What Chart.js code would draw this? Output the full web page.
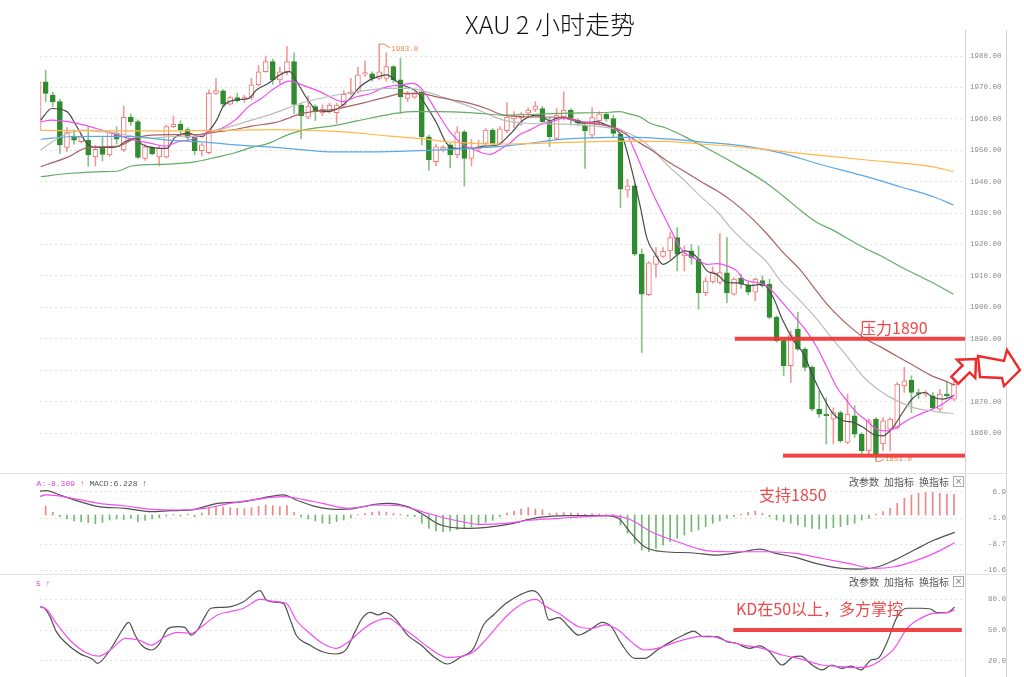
<!DOCTYPE html>
<html lang="zh-CN">
<head>
<meta charset="utf-8">
<title>XAU 2 小时走势</title>
<script src="https://cdn.jsdelivr.net/npm/chart.js@4.4.1/dist/chart.umd.min.js"></script>
<style>
html,body{margin:0;padding:0;background:#fff;}
body{position:relative;width:1024px;height:677px;overflow:hidden;font-family:"Noto Sans CJK SC","Noto Sans",sans-serif;}
canvas{position:absolute;}
.vl{position:absolute;width:1px;background:#d4d4d4;top:30px;height:647px;}
.hl{position:absolute;height:1px;background:#e3e3e3;left:0;width:1006px;}
#title{position:absolute;left:0;width:1100px;top:11px;text-align:center;font-size:25px;font-weight:300;line-height:1;color:#111;white-space:nowrap;}
.red{position:absolute;color:#ef4848;font-size:16px;line-height:1;white-space:nowrap;}
.tool{position:absolute;font-size:10px;line-height:1;color:#555;white-space:nowrap;}
.mono{position:absolute;font-family:"Liberation Mono","DejaVu Sans Mono",monospace;font-size:8px;line-height:1;white-space:nowrap;}
.xbox{position:absolute;width:9px;height:9px;border:1px solid #aaa;font-size:9px;line-height:9px;text-align:center;color:#777;font-family:"DejaVu Sans",sans-serif;}
</style>
</head>
<body>
<div class="vl" style="left:965px"></div>
<div class="vl" style="left:1006px"></div>
<div class="hl" style="top:473px"></div>
<div class="hl" style="top:574px"></div>

<canvas id="main" width="984" height="442" style="left:40px;top:30px;width:984px;height:442px"></canvas>
<canvas id="macd" width="984" height="97" style="left:40px;top:475px;width:984px;height:97px"></canvas>
<canvas id="kd" width="984" height="100" style="left:40px;top:577px;width:984px;height:100px"></canvas>

<div id="title">XAU 2 小时走势</div>

<div class="red" style="left:860px;top:319px">压力1890</div>
<div class="red" style="left:759px;top:486px">支持1850</div>
<div class="red" style="left:736px;top:600px">KD在50以上，多方掌控</div>

<div style="position:absolute;left:36px;top:480px;width:200px;height:10px;overflow:hidden;">
  <span class="mono" style="left:-9px;top:0;color:#e040e0">DEA:-8.309 ↑ <span style="color:#555">MACD:6.228 ↑</span></span>
</div>
<div style="position:absolute;left:36px;top:580px;width:60px;height:10px;overflow:hidden;">
  <span class="mono" style="left:0;top:0;color:#e040e0">5 ↑</span>
</div>

<div class="tool" style="left:849px;top:477px">改参数</div>
<div class="tool" style="left:884px;top:477px">加指标</div>
<div class="tool" style="left:919px;top:477px">换指标</div>
<div class="xbox" style="left:953px;top:476px">×</div>
<div class="tool" style="left:849px;top:577px">改参数</div>
<div class="tool" style="left:884px;top:577px">加指标</div>
<div class="tool" style="left:919px;top:577px">换指标</div>
<div class="xbox" style="left:953px;top:576px">×</div>

<script>
// ---------------- DATA ----------------
// 2-hour candles, index 0..129
const open = [
1956.4,1971.8,1967.6,1965.5,1950.9,1954.5,1952.7,1953.2,1947.9,1950.6,
1948.5,1955.2,1950.1,1960.5,1959.1,1947.4,1950.9,1947.9,1947.9,1957.5,
1958.3,1956.6,1954.3,1949.9,1949.2,1968.1,1968.9,1964.7,1966.8,1966.2,
1966.8,1970.8,1975.0,1978.2,1972.4,1975.0,1978.2,1964.4,1960.5,1963.9,
1961.9,1962.3,1962.0,1964.4,1968.1,1968.6,1974.2,1974.3,1972.9,1972.9,
1976.6,1972.4,1966.5,1966.9,1968.6,1954.3,1946.4,1950.3,1951.7,1948.5,
1955.9,1947.4,1950.4,1952.2,1956.4,1952.2,1956.2,1960.0,1960.4,1961.8,
1963.0,1963.3,1959.1,1953.8,1960.7,1962.8,1959.6,1958.0,1954.8,1959.4,
1961.5,1960.1,1955.1,1937.3,1938.7,1916.9,1904.0,1913.7,1916.2,1918.0,
1922.2,1916.4,1918.0,1915.3,1904.7,1908.1,1907.9,1911.0,1904.2,1909.3,
1907.2,1904.8,1908.5,1907.4,1896.8,1889.4,1881.4,1893.1,1886.7,1880.9,
1867.6,1866.0,1864.4,1866.5,1857.0,1865.5,1859.6,1854.3,1864.4,1856.5,
1861.2,1861.8,1875.0,1876.8,1872.9,1872.4,1871.8,1867.6,1872.4,1870.8];
const high = [
1972.2,1975.5,1968.5,1966.2,1957.2,1956.5,1955.0,1957.5,1951.6,1954.1,
1956.2,1957.5,1964.1,1961.6,1959.7,1951.8,1951.2,1951.3,1958.0,1960.9,
1959.4,1957.2,1954.8,1952.2,1969.2,1972.8,1969.3,1967.2,1968.2,1967.5,
1972.9,1977.0,1980.0,1979.0,1976.5,1983.0,1981.0,1965.0,1967.3,1964.5,
1964.5,1965.0,1965.0,1969.0,1972.9,1976.4,1978.5,1975.0,1983.8,1981.0,
1977.0,1979.3,1968.8,1968.5,1968.8,1954.8,1952.0,1951.5,1952.2,1957.5,
1956.4,1953.5,1953.2,1956.9,1956.9,1957.5,1965.2,1962.3,1962.0,1963.5,
1965.5,1964.0,1960.5,1963.3,1968.6,1963.3,1960.1,1959.0,1963.6,1962.3,
1962.0,1961.2,1955.6,1940.8,1939.2,1918.6,1914.6,1919.0,1919.0,1923.8,
1925.4,1919.6,1920.0,1919.6,1909.5,1912.9,1923.5,1922.2,1909.5,1910.5,
1908.0,1909.3,1910.0,1909.0,1897.3,1889.9,1892.5,1898.4,1887.2,1881.4,
1873.4,1871.3,1868.0,1867.0,1872.4,1868.7,1860.1,1864.4,1864.9,1864.9,
1864.9,1876.1,1880.9,1878.2,1874.0,1873.5,1872.9,1873.9,1876.6,1877.0];
const low = [
1955.8,1965.5,1964.0,1949.0,1949.5,1951.9,1952.3,1944.9,1945.0,1946.6,
1948.0,1952.0,1949.5,1957.9,1947.4,1946.8,1948.5,1945.0,1947.5,1957.2,
1954.5,1953.2,1948.6,1948.2,1948.8,1967.8,1964.0,1964.4,1965.3,1965.2,
1966.0,1970.5,1974.8,1971.0,1971.2,1974.0,1961.7,1953.7,1960.0,1959.5,
1961.0,1961.8,1958.6,1963.8,1967.6,1968.2,1973.5,1972.0,1972.5,1972.0,
1971.5,1961.8,1965.5,1966.5,1951.7,1943.6,1945.0,1949.5,1944.4,1947.5,
1938.6,1945.0,1949.5,1951.7,1951.7,1951.7,1955.6,1957.2,1957.9,1960.5,
1962.3,1958.6,1951.1,1953.4,1959.6,1958.0,1957.8,1944.2,1953.8,1958.0,
1959.2,1954.3,1931.8,1935.0,1916.4,1885.6,1903.7,1909.5,1915.9,1915.3,
1911.6,1911.6,1913.7,1899.4,1903.7,1907.6,1907.4,1901.5,1903.8,1906.0,
1904.0,1902.1,1906.4,1896.3,1888.9,1878.2,1876.1,1886.2,1879.8,1867.1,
1865.0,1856.5,1856.5,1857.0,1856.5,1858.6,1853.3,1853.3,1851.0,1854.3,
1854.3,1861.2,1872.9,1866.5,1871.0,1871.5,1867.6,1866.9,1871.3,1870.2];
const close = [
1971.8,1968.1,1965.5,1951.7,1955.6,1953.2,1954.3,1948.5,1950.3,1948.7,
1955.6,1953.5,1960.5,1959.1,1947.7,1951.1,1948.8,1950.6,1957.5,1958.3,
1956.4,1954.1,1949.9,1951.7,1968.1,1969.0,1964.7,1966.8,1965.8,1966.8,
1970.8,1975.0,1978.2,1972.4,1975.0,1978.2,1964.6,1960.9,1963.9,1962.3,
1963.0,1964.4,1964.4,1967.8,1968.6,1974.0,1974.7,1972.9,1975.0,1976.6,
1972.4,1967.0,1967.9,1968.0,1954.3,1946.9,1951.1,1950.9,1948.5,1955.9,
1947.4,1950.6,1951.2,1956.4,1952.2,1956.8,1960.6,1961.2,1961.6,1962.8,
1964.1,1959.1,1954.3,1961.2,1962.8,1960.4,1958.6,1956.2,1960.4,1961.6,
1960.0,1955.4,1937.6,1938.7,1916.9,1904.2,1914.2,1916.4,1917.8,1922.2,
1916.9,1917.1,1915.8,1904.7,1908.4,1911.3,1911.1,1904.7,1909.0,1907.4,
1904.8,1909.0,1906.9,1896.8,1889.4,1881.4,1891.0,1886.7,1880.9,1867.6,
1866.0,1865.5,1866.5,1857.5,1866.0,1859.6,1854.3,1863.9,1853.3,1863.9,
1864.4,1875.6,1876.6,1872.9,1872.4,1872.9,1868.1,1872.4,1871.8,1875.6];

// moving-average lines, [candle position, price]
const maBlack = [[0.3,1959.6],[1.85,1963.3],[4.0,1962.3],[5.4,1957.5],[6.8,1952.2],[8.2,1950.9],[10.1,1950.9],[11.2,1951.2],[12.2,1952.7],[13.6,1953.8],[14.5,1952],[15.9,1950.9],[18.1,1950.6],[19.2,1954.1],[21.1,1955.4],[23.0,1954.3],[23.9,1955.9],[25.1,1959.6],[26.0,1963.9],[27.7,1966],[29.6,1966.5],[30.7,1969.2],[32.4,1971.3],[34.0,1974],[35.4,1975],[36.4,1971.8],[37.8,1966.5],[39.2,1962.8],[40.8,1962.3],[42.2,1963.3],[43.9,1966.5],[45.3,1970.2],[46.7,1972.4],[48.1,1973.6],[49.1,1974],[50.5,1971.8],[51.9,1970.2],[53.3,1968.6],[54.7,1963.9],[56.1,1958.6],[57.5,1952.2],[58.9,1950.6],[61.3,1950.6],[62.7,1951.3],[64.6,1951.6],[66.4,1955],[68.3,1959.6],[70.2,1961.2],[71.1,1960.5],[72.0,1959.4],[73.5,1960.5],[74.9,1959.8],[76.8,1958.6],[78.6,1959.1],[80.1,1958],[81.5,1956.4],[82.4,1953.5],[82.9,1949.8],[83.8,1941.8],[84.8,1932],[85.7,1922.2],[86.9,1916.9],[88.0,1913.7],[89.0,1914.8],[90.1,1916.9],[91.1,1918],[92.3,1916.9],[93.2,1914.8],[94.2,1911.6],[95.6,1910.5],[97.0,1907.9],[98.4,1907.8],[100.3,1906.9],[102.1,1907.4],[103.5,1903.2],[104.9,1895.7],[106.4,1889.4],[107.8,1885.1],[109.2,1877.7],[110.6,1871.3],[112.0,1866],[113.4,1863.9],[114.8,1863.4],[116.2,1861.8],[117.6,1859.6],[119.0,1859.1],[120.4,1861.8],[121.9,1867],[123.3,1871.3],[124.9,1872.9],[126.1,1871.3],[127.5,1870.8],[128.9,1871.8]];
const maMagenta = [[0.3,1959.1],[1.85,1959.6],[4.2,1959.1],[6.5,1958],[8.9,1956.4],[11.2,1954.8],[13.6,1953.2],[15.9,1952.2],[17.8,1951.3],[19.7,1952.7],[21.6,1953.5],[23.4,1955.4],[25.8,1957],[27.7,1959.6],[29.6,1963.9],[31.4,1966.5],[33.3,1969.8],[35.4,1972],[37.5,1970.5],[39.7,1968.6],[42.0,1966],[42.9,1965.5],[44.9,1967.1],[46.7,1968],[48.5,1969.8],[50.9,1970.8],[52.8,1971.3],[54.2,1969],[56.1,1962.3],[58.0,1955.8],[59.8,1951.8],[61.8,1949.8],[63.6,1948.7],[65.4,1950.8],[66.4,1952.2],[67.8,1955],[69.2,1956.4],[70.7,1958.2],[73.0,1959.6],[73.9,1960.2],[76.3,1959.2],[78.6,1958.6],[81.0,1957.3],[81.9,1956.6],[82.9,1955.1],[83.8,1950.9],[85.2,1943.4],[86.6,1936],[88.0,1929.6],[89.4,1923.3],[90.4,1919],[91.3,1916.9],[92.7,1915.3],[94.2,1913.7],[95.6,1913.9],[97.0,1913.2],[98.4,1911.6],[99.3,1909],[101.2,1907.9],[102.6,1906.9],[104.0,1903.7],[105.4,1900],[106.8,1896.3],[108.2,1892.5],[109.7,1887.2],[111.1,1880.9],[112.5,1874.5],[113.9,1870.3],[115.3,1866.5],[116.7,1863.9],[118.1,1861.2],[119.5,1860.7],[120.9,1861.8],[122.3,1863.9],[123.7,1865.5],[125.6,1867.3],[127.0,1868.7],[128.4,1870.8],[129.1,1872.2]];
const maGray = [[0.3,1950.1],[2.3,1953.2],[4.2,1955.4],[6.5,1956.4],[8.9,1955.9],[11.2,1955.4],[13.6,1954.3],[15.9,1953.8],[18.3,1954.3],[20.6,1954.3],[23.0,1954.8],[25.3,1956.4],[27.7,1958],[30.0,1959.6],[32.4,1961.2],[33.3,1961.9],[37.3,1965.2],[42.0,1967.6],[46.7,1969.2],[49.5,1969.7],[52.3,1969.7],[54.7,1968.6],[57.5,1966.5],[60.8,1963.9],[63.6,1961.2],[65.5,1959.6],[68.8,1958.6],[74.4,1958.3],[79.1,1957.5],[81.5,1956.6],[82.9,1955.6],[84.8,1953.5],[86.9,1949.5],[88.5,1945.5],[90.9,1940.6],[93.2,1935.5],[95.6,1930.5],[97.9,1924.4],[100.3,1919.2],[102.6,1914.5],[104.5,1908.6],[106.8,1903.3],[109.2,1897.5],[111.5,1891],[113.9,1884.5],[116.2,1878],[118.6,1873.4],[120.9,1870.3],[123.3,1868.1],[125.6,1867.1],[127.5,1866.5],[128.9,1866.2]];
const maBrown = [[0.3,1944.8],[2.3,1946.3],[4.2,1947.9],[6.5,1950.6],[8.9,1951.1],[11.2,1951.3],[13.6,1953.8],[15.9,1954.8],[18.3,1955],[20.6,1955],[23.0,1955.1],[25.3,1955.9],[27.7,1956.6],[30.0,1957.7],[33.3,1958.8],[37.3,1961.8],[42.0,1963.2],[46.7,1965.6],[49.1,1967],[51.4,1968.1],[53.7,1968.1],[56.1,1967],[58.4,1966],[60.8,1964.9],[63.1,1963.3],[65.5,1961.2],[70.2,1960.6],[74.4,1960.4],[76.8,1958.8],[79.1,1958.2],[81.0,1957.2],[82.4,1955.6],[83.8,1953.6],[86.2,1950.3],[88.5,1946.7],[90.9,1943.4],[93.2,1940.2],[95.6,1937.1],[97.9,1933.5],[100.3,1928.8],[102.6,1923.5],[104.9,1917.5],[107.3,1912],[109.7,1905],[111.5,1900],[114.0,1894.5],[116.5,1890],[118.6,1887.5],[120.9,1884.5],[123.3,1881.5],[125.6,1878.5],[128.0,1876.3],[129.1,1875.2]];
const maGreen = [[0.3,1941.6],[4.2,1942.6],[8.9,1943.2],[11.2,1943.4],[13.1,1945],[18.3,1945.6],[22.0,1946.3],[25.3,1947.9],[27.7,1949.2],[30.0,1950.9],[32.4,1952.2],[35.0,1954.8],[37.3,1956.4],[42.0,1958],[46.7,1960.2],[50.5,1961.8],[52.8,1962.3],[56.1,1962.3],[60.8,1962],[65.5,1961.2],[74.4,1961.8],[80.5,1962.1],[81.9,1962.3],[83.3,1961.5],[84.8,1960.6],[86.2,1958.6],[88.5,1957],[90.9,1954.5],[93.2,1951.8],[97.9,1946],[102.6,1939.5],[104.9,1935.5],[107.3,1931],[109.7,1927],[112.0,1924.5],[114.3,1921.5],[116.7,1918.5],[118.6,1916.5],[121.4,1913],[125.6,1908.3],[128.9,1904.2]];
const maOrange = [[0.3,1956.3],[8.9,1956.2],[18.3,1956.2],[27.7,1956.4],[33.3,1956.6],[42.0,1956],[49.1,1954.6],[54.2,1953.6],[58.4,1952.6],[65.0,1952],[74.4,1952.5],[81.5,1952.9],[88.5,1952.8],[93.2,1952],[98.9,1951.1],[107.3,1949],[116.7,1946.9],[126.1,1944.7],[128.9,1943.2]];
const maBlue = [[0.3,1953.5],[4.2,1954.3],[8.9,1954.4],[13.6,1954.3],[18.3,1953.2],[23.0,1952.7],[27.7,1951.7],[33.3,1950.9],[42.0,1949.5],[46.7,1949.5],[53.7,1949.9],[60.8,1950.6],[66.4,1951.5],[74.4,1953.6],[80.5,1954.1],[84.3,1954.1],[88.5,1953.6],[93.2,1952.7],[100.3,1951.1],[104.9,1949],[109.7,1945.8],[116.7,1941.6],[121.4,1938.4],[126.1,1935.2],[128.9,1932.6]];

// MACD panel
const macdHist = [
3.0,2.6,0.8,-0.5,-1.2,-1.8,-2.0,-2.3,-2.6,-2.2,
-1.5,-1.2,-1.4,-1.0,-2.0,-1.6,-1.2,-0.8,-0.3,0.2,
-0.3,0.3,-0.5,0.6,2.0,2.5,2.4,2.2,2.0,1.9,
2.2,2.6,3.0,2.8,2.5,2.8,0.8,-0.6,-1.2,-1.8,
-2.4,-2.6,-2.0,-1.5,-0.8,0.1,0.4,0.8,1.0,0.9,
0.5,0.2,-0.4,-0.5,-2.5,-4.0,-4.8,-5.0,-4.8,-4.4,
-4.0,-3.5,-3.0,-2.2,-1.6,-0.5,0.6,1.2,1.8,2.2,
1.8,1.6,0.5,0.6,0.7,0.6,0.5,0.2,0.4,0.3,
0.2,0.2,-3.0,-5.5,-8.5,-10.5,-11.0,-10.0,-9.0,-8.0,
-7.0,-6.0,-5.0,-4.5,-3.5,-2.5,-1.8,-1.0,-0.5,0.3,
0.8,1.2,0.5,-0.5,-1.5,-2.0,-2.5,-3.0,-3.5,-4.0,
-4.2,-4.0,-3.8,-3.5,-3.0,-2.5,-1.5,-1.0,0.3,1.0,
2.0,3.5,5.0,6.0,6.5,6.8,6.8,6.5,6.3,6.2];
const macdDif = [[-0.5,7.0],[1.1,7.3],[3.0,6.0],[5.8,4.0],[8.5,2.5],[12.2,2.0],[15.9,1.0],[18.7,1.3],[21.5,1.5],[23.4,2.5],[25.2,3.5],[28.9,4.0],[32.6,5.5],[34.5,6.0],[36.3,4.5],[39.1,2.5],[41.9,1.7],[44.6,2.0],[47.4,3.2],[49.3,3.5],[52.0,2.5],[53.9,0.5],[56.7,-3.0],[60.4,-4.0],[63.2,-3.7],[66.9,-2.5],[68.7,-1.5],[70.6,-0.7],[74.3,-0.2],[79.8,-0.2],[81.7,-1.0],[83.5,-5.5],[85.4,-9.5],[88.2,-11.0],[91.9,-11.3],[95.6,-12.0],[99.3,-11.0],[101.6,-10.2],[103.9,-11.5],[106.7,-12.7],[109.5,-14.5],[113.1,-16.0],[115.9,-16.2],[118.3,-15.5],[120.6,-13.5],[123.4,-10.5],[126.2,-7.5],[129.1,-5.2]];
const macdDea = [[-0.5,5.0],[1.1,6.0],[4.8,5.0],[8.5,3.5],[12.2,2.7],[15.9,1.7],[19.6,1.5],[23.4,2.0],[27.0,3.5],[30.7,4.7],[34.5,5.5],[37.2,4.7],[40.0,3.5],[43.7,2.0],[47.4,3.0],[51.1,2.7],[54.8,0.5],[58.5,-1.5],[62.2,-2.8],[65.9,-2.5],[69.6,-1.5],[73.3,-1.0],[77.0,-0.5],[80.7,-0.2],[83.5,-1.5],[86.3,-5.0],[90.0,-8.0],[93.7,-10.5],[97.4,-11.0],[103.0,-11.0],[106.7,-11.5],[110.4,-13.0],[114.1,-14.5],[117.8,-16.0],[120.6,-15.5],[123.4,-13.8],[126.2,-11.5],[129.1,-8.3]];

// KD panel
const kdK = [[-0.5,72.7],[0.66,72.0],[1.6,63.0],[2.5,48.4],[3.9,37.1],[5.75,27.3],[7.6,21.5],[8.3,17.6],[9.9,28.9],[10.8,38.7],[11.8,50.0],[12.7,57.5],[13.6,45.1],[14.5,35.4],[15.9,30.6],[16.9,35.4],[18.3,51.6],[19.6,53.2],[20.6,52.6],[21.5,45.1],[22.4,50.0],[23.3,61.3],[24.3,71.1],[25.7,72.0],[27.1,72.7],[28.9,77.5],[31.2,88.2],[32.1,79.1],[33.5,76.9],[34.5,75.9],[35.4,61.3],[36.3,45.1],[38.2,35.4],[40.0,28.9],[41.9,26.7],[43.3,30.6],[44.6,48.4],[45.6,61.3],[46.7,67.2],[47.9,64.6],[48.8,67.2],[50.2,61.3],[52.0,45.1],[53.9,35.4],[55.7,24.1],[57.6,17.0],[59.4,23.4],[61.3,32.2],[62.7,54.9],[64.1,64.6],[65.9,75.9],[67.8,84.0],[69.6,88.2],[71.0,79.1],[71.9,59.7],[73.3,62.0],[74.7,53.2],[76.1,45.1],[78.0,51.6],[79.4,57.5],[80.7,53.2],[82.1,37.1],[84.0,22.5],[85.4,22.5],[87.2,30.6],[89.1,38.7],[90.9,45.1],[92.3,49.0],[93.7,43.5],[95.6,43.5],[97.0,38.7],[98.3,37.1],[100.2,32.2],[101.6,34.5],[103.0,28.9],[104.8,16.0],[106.2,23.4],[107.4,24.7],[109.0,16.0],[110.4,11.2],[111.8,16.0],[113.2,12.8],[114.5,15.0],[115.9,11.2],[117.3,20.9],[118.3,22.5],[119.6,38.7],[121.0,63.0],[122.4,71.1],[124.3,71.1],[125.7,70.4],[126.6,66.8],[128.0,66.8],[129.1,72.0]];
const kdD = [[-0.5,72.7],[1.1,70.1],[2.5,56.5],[4.4,40.3],[6.7,28.0],[8.5,24.7],[10.4,32.2],[12.2,41.9],[14.1,40.3],[15.9,35.4],[17.8,43.5],[19.6,47.7],[21.5,46.8],[23.3,54.9],[25.2,64.6],[27.0,67.8],[28.9,71.1],[31.2,79.8],[33.5,77.5],[34.9,75.9],[36.3,59.7],[38.2,46.8],[40.0,37.1],[41.9,32.2],[43.7,38.7],[45.6,50.0],[47.4,58.1],[49.3,61.3],[51.1,53.2],[53.0,43.5],[54.8,33.8],[57.6,23.4],[59.4,24.1],[61.3,28.9],[63.2,41.9],[65.0,56.5],[66.9,69.4],[68.7,77.5],[70.1,79.8],[71.5,72.7],[73.3,66.2],[76.1,53.2],[78.0,51.6],[79.8,54.9],[81.7,50.0],[83.5,38.7],[85.4,30.6],[87.2,32.2],[90.0,38.7],[92.8,43.5],[94.6,44.2],[96.5,40.3],[99.3,35.4],[102.0,32.2],[104.8,25.7],[107.6,21.5],[110.4,16.0],[113.2,14.4],[115.0,13.4],[116.9,14.4],[118.7,20.9],[120.6,32.2],[122.4,51.6],[124.3,61.3],[126.1,66.2],[128.0,66.8],[129.1,69.4]];

// axis ticks
const priceTicks = [1980,1970,1960,1950,1940,1930,1920,1910,1900,1890,1880,1870,1860];
const macdTicks = [6.9,-1.0,-8.7,-16.6];
const kdTicks = [80,50,20];

// annotation levels
const resistanceLevel = 1890;     // 压力1890
const resistanceFrom = 98.1;      // candle position where the line starts
const supportLevel = 1852.8;      // 支持1850 line
const supportFrom = 104.9;
const kdLevel = 50;
const kdFrom = 97.9, kdTo = 130.1;
const arrowLevel = 1880;

// ---------------- STYLE ----------------
const C_UP = '#f07272', C_UP_W = '#f29a9a';
const C_DN = '#2f8c2f', C_DN_W = '#86c286';
const RED = 'rgba(240,52,52,0.92)';
const MARK = '#f08450';
const X_MIN = 0.2, X_MAX = 130.55;
const tickFont = {family:'"Liberation Mono","DejaVu Sans Mono",monospace', size:7.5};

Chart.defaults.font.family = '"Noto Sans CJK SC","Noto Sans",sans-serif';

const pts = arr => arr.map(p => ({x:p[0], y:p[1]}));
const isUp = i => close[i] >= open[i];
const lineDs = (data, color, w) => ({type:'line', data:pts(data), borderColor:color, borderWidth:w||1.2,
  pointRadius:0, cubicInterpolationMode:'monotone', fill:false, order:1});

const baseOpts = (yMin, yMax, ticks, fmt, yOpts) => ({
  responsive:false, animation:false, events:[],
  layout:{padding:{left:0, right:18, top:0, bottom:0}, autoPadding:false},
  plugins:{legend:{display:false}, tooltip:{enabled:false}},
  scales:{
    x:{type:'linear', min:X_MIN, max:X_MAX, display:false, offset:false, bounds:'data'},
    y:Object.assign({
      type:'linear', position:'right', min:yMin, max:yMax, bounds:'data', grace:0,
      afterFit(s){ s.width = 41; s.paddingTop = 0; s.paddingBottom = 0; },
      afterBuildTicks(s){ s.ticks = ticks.map(v => ({value:v})); },
      ticks:{color:'#8a8a8a', font:tickFont, padding:5, autoSkip:false, callback:v => fmt(v)},
      grid:{color:'#e2e2e2', drawTicks:false, lineWidth:1},
      border:{display:false, dash:[2,3]}
    }, yOpts || {})
  }
});

// ---------------- MAIN (price) ----------------
const hiIdx = high.indexOf(Math.max(...high));
const loIdx = low.indexOf(Math.min(...low));

const arrowA = [[11,-11.2],[10.3,7.9],[4.6,2.2],[-6.7,13.5],[-13.7,6.5],[-2.4,-4.8],[-8.1,-10.5]];
const arrowB = [[13,-14.2],[39,-9.2],[42,-20.2],[55,-0.2],[39,15.8],[37,7.8],[15,6.8]];

const mainMarks = {
  id:'mainMarks',
  afterDatasetsDraw(chart){
    const {ctx, chartArea:a, scales:{x, y}} = chart;
    ctx.save();
    ctx.beginPath(); ctx.rect(a.left, a.top, a.right - a.left, a.bottom - a.top); ctx.clip();
    ctx.strokeStyle = MARK; ctx.fillStyle = MARK; ctx.lineWidth = 1;
    ctx.font = '7.5px "Liberation Mono","DejaVu Sans Mono",monospace';
    ctx.textBaseline = 'middle'; ctx.textAlign = 'left';
    const hx = x.getPixelForValue(hiIdx), hy = y.getPixelForValue(high[hiIdx]);
    ctx.beginPath(); ctx.moveTo(hx, hy); ctx.lineTo(hx + 5, hy); ctx.lineTo(hx + 11, hy + 4); ctx.stroke();
    ctx.fillText(high[hiIdx].toFixed(1), hx + 12, hy + 4.5);
    const lx = x.getPixelForValue(loIdx), ly = y.getPixelForValue(low[loIdx]);
    ctx.beginPath(); ctx.moveTo(lx, ly); ctx.lineTo(lx + 4, ly); ctx.lineTo(lx + 8, ly - 2); ctx.stroke();
    ctx.fillText(low[loIdx].toFixed(1), lx + 9, ly - 2);
    ctx.restore();

    ctx.save();
    ctx.fillStyle = RED;
    const ry = y.getPixelForValue(resistanceLevel), rx = x.getPixelForValue(resistanceFrom);
    ctx.fillRect(rx, ry - 2, a.right - rx, 4);
    const sy = y.getPixelForValue(supportLevel), sx = x.getPixelForValue(supportFrom);
    ctx.fillRect(sx, sy - 2, a.right - sx, 4);
    ctx.restore();
  },
  afterDraw(chart){
    const {ctx, chartArea:a, scales:{y}} = chart;
    const ax = a.right, ay = y.getPixelForValue(arrowLevel);
    ctx.save();
    ctx.lineWidth = 2.4; ctx.strokeStyle = '#ee2a2a'; ctx.fillStyle = '#ffffff'; ctx.lineJoin = 'miter';
    [arrowA, arrowB].forEach(shape => {
      ctx.beginPath();
      shape.forEach((p, k) => k ? ctx.lineTo(ax + p[0], ay + p[1]) : ctx.moveTo(ax + p[0], ay + p[1]));
      ctx.closePath(); ctx.fill(); ctx.stroke();
    });
    ctx.restore();
  }
};

new Chart(document.getElementById('main'), {
  type:'line',
  data:{datasets:[
    {type:'bar', label:'wick', data:open.map((_, i) => ({x:i, y:[low[i], high[i]]})),
     backgroundColor:open.map((_, i) => isUp(i) ? C_UP_W : C_DN_W), barThickness:1, grouped:false, order:3},
    {type:'bar', label:'body', data:open.map((_, i) => ({x:i, y:[open[i], close[i]]})),
     backgroundColor:open.map((_, i) => isUp(i) ? '#ffffff' : C_DN),
     borderColor:open.map((_, i) => isUp(i) ? C_UP : C_DN),
     borderWidth:1, borderSkipped:false, barThickness:5, minBarLength:1, grouped:false, order:2},
    lineDs(maOrange, '#ffb84a'),
    lineDs(maBlue, '#5aa8e6'),
    lineDs(maGreen, '#62ad62'),
    lineDs(maBrown, '#a96262'),
    lineDs(maGray, '#bcbcbc'),
    lineDs(maMagenta, '#f24df2'),
    lineDs(maBlack, '#4a4a4a')
  ]},
  options:baseOpts(1847.59, 1988.28, priceTicks, v => v.toFixed(2)),
  plugins:[mainMarks]
});

// ---------------- MACD ----------------
new Chart(document.getElementById('macd'), {
  type:'line',
  data:{datasets:[
    {type:'bar', data:macdHist.map((v, i) => ({x:i, y:v})),
     backgroundColor:macdHist.map(v => v >= 0 ? '#f08585' : '#72b872'), barThickness:1, grouped:false, order:2},
    lineDs(macdDea, '#f24df2'),
    lineDs(macdDif, '#505050')
  ]},
  options:baseOpts(-17.07, 11.98, macdTicks, v => v.toFixed(1),
    {ticks:{color:'#8a8a8a', font:tickFont, padding:8, crossAlign:'far', autoSkip:false, callback:v => v.toFixed(1)}})
});

// ---------------- KD ----------------
const kdMarks = {
  id:'kdMarks',
  afterDatasetsDraw(chart){
    const {ctx, scales:{x, y}} = chart;
    ctx.save(); ctx.fillStyle = RED;
    const yy = y.getPixelForValue(kdLevel), x0 = x.getPixelForValue(kdFrom), x1 = x.getPixelForValue(kdTo);
    ctx.fillRect(x0, yy - 2, x1 - x0, 4);
    ctx.restore();
  }
};
new Chart(document.getElementById('kd'), {
  type:'line',
  data:{datasets:[
    lineDs(kdD, '#f24df2'),
    lineDs(kdK, '#505050')
  ]},
  options:baseOpts(4.37, 101.46, kdTicks, v => v.toFixed(1),
    {ticks:{color:'#8a8a8a', font:tickFont, padding:12, crossAlign:'far', autoSkip:false, callback:v => v.toFixed(1)}}),
  plugins:[kdMarks]
});
</script>
</body>
</html>
